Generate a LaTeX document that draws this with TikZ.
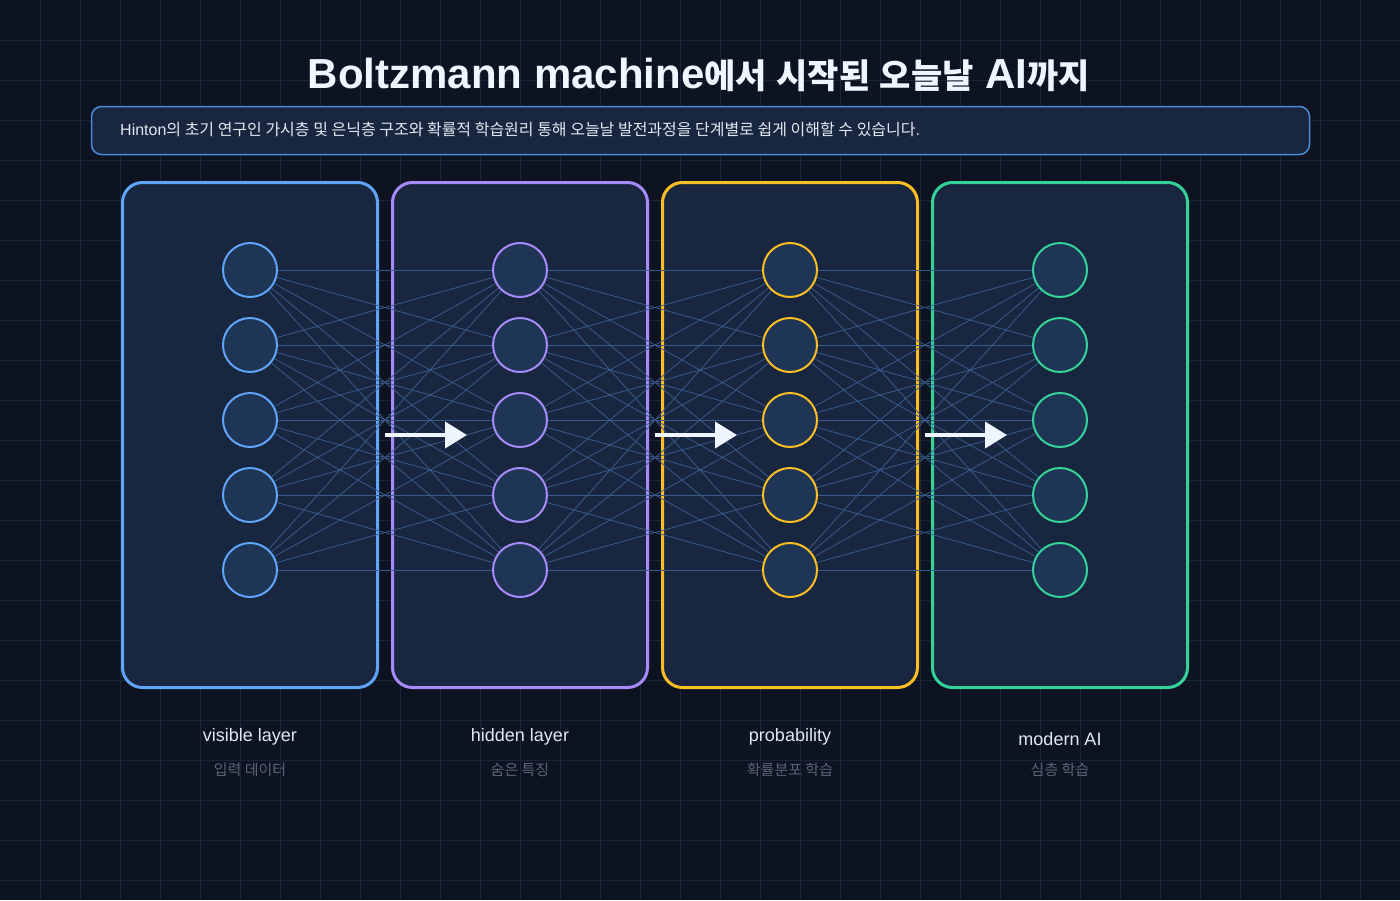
\documentclass[tikz,border=0pt]{standalone}
\usepackage{fontspec}
\setmainfont{Liberation Sans}
\newfontfamily\krfont{Noto Sans CJK KR}
\newcommand{\kr}[1]{{\krfont #1}}
\usepackage{tikz}
\usetikzlibrary{arrows.meta,positioning}
\definecolor{bgnavy}{HTML}{0D1320}
\definecolor{gridnavy}{HTML}{1A2539}
\definecolor{panelnavy}{HTML}{182640}
\definecolor{unitnavy}{HTML}{1E3556}
\definecolor{wirenavy}{HTML}{3A5A8A}
\definecolor{boxblue}{HTML}{4A8AD8}
\definecolor{visblue}{HTML}{60A5FA}
\definecolor{hidpurple}{HTML}{A78BFA}
\definecolor{probyellow}{HTML}{FBBF24}
\definecolor{aigreen}{HTML}{34D399}
\definecolor{titlewhite}{HTML}{F0F6FF}
\definecolor{labelgray}{HTML}{E2E8F0}
\definecolor{subgray}{HTML}{5B6576}

\begin{document}
\begin{tikzpicture}[
        x=1pt, y=-1pt,
        panel/.style={
            rectangle, draw=#1, line width=3pt, rounded corners=20pt, fill=panelnavy,
            minimum width=255pt, minimum height=505pt
        },
        unit/.style={
            circle, draw=#1, line width=2pt, fill=unitnavy, minimum size=54pt, inner sep=0pt
        },
        wire/.style={
            draw=wirenavy, line width=0.8pt
        },
        flow/.style={
            draw=titlewhite, line width=4pt, -{Triangle[length=22pt,width=26pt]}
        },
        lname/.style={
            text=labelgray, font=\fontsize{18}{21}\selectfont
        },
        lsub/.style={
            text=subgray, font=\fontsize{15}{18}\selectfont
        }
    ]

    % Background and grid
    \fill[bgnavy] (0,0) rectangle (1400,900);
    \useasboundingbox (0,0) rectangle (1400,900);
    \foreach \gx in {40,80,...,1360} \draw[gridnavy, line width=1pt] (\gx,0) -- (\gx,900);
    \foreach \gy in {40,80,...,880} \draw[gridnavy, line width=1pt] (0,\gy) -- (1400,\gy);

    % Title
    \node[text=titlewhite, font=\fontsize{42}{48}\selectfont\bfseries] (title) at (699,75)
        {Boltzmann machine{\fontsize{34}{40}\selectfont\kr{에서} \kr{시작된} \kr{오늘날}} AI{\fontsize{34}{40}\selectfont\kr{까지}}};

    % Summary box
    \node[rectangle, draw=boxblue, line width=1.5pt, rounded corners=10pt, fill=panelnavy,
          minimum width=1218pt, minimum height=48pt] (summary) at (700.5,130.5) {};
    \node[anchor=west, text=labelgray, font=\fontsize{16}{19}\selectfont, inner sep=0pt] (summarytext) at (120,129)
        {Hinton\kr{의 초기 연구인 가시층 및 은닉층 구조와 확률적 학습원리 통해 오늘날 발전과정을 단계별로 쉽게 이해할 수 있습니다}.};

    % Panels
    \node[panel=visblue] (vispanel) at (250,435) {};
    \node[panel=hidpurple] (hidpanel) at (520,435) {};
    \node[panel=probyellow] (probpanel) at (790,435) {};
    \node[panel=aigreen] (aipanel) at (1060,435) {};

    % Units
    \foreach \k/\ky in {1/270,2/345,3/420,4/495,5/570} {
        \node[unit=visblue] (v\k) at (250,\ky) {};
        \node[unit=hidpurple] (h\k) at (520,\ky) {};
        \node[unit=probyellow] (p\k) at (790,\ky) {};
        \node[unit=aigreen] (m\k) at (1060,\ky) {};
    }

    % Fully connected wires between neighbouring layers
    \foreach \i in {1,...,5} {
        \foreach \j in {1,...,5} {
            \draw[wire] (v\i) -- (h\j);
            \draw[wire] (h\i) -- (p\j);
            \draw[wire] (p\i) -- (m\j);
        }
    }

    % Flow arrows
    \coordinate (a1s) at (385,435);
    \coordinate (a1e) at (467,435);
    \coordinate (a2s) at (655,435);
    \coordinate (a2e) at (737,435);
    \coordinate (a3s) at (925,435);
    \coordinate (a3e) at (1007,435);
    \draw[flow] (a1s) -- (a1e);
    \draw[flow] (a2s) -- (a2e);
    \draw[flow] (a3s) -- (a3e);

    % Layer names
    \node[lname] (visname) at (250,737) {visible layer};
    \node[lname] (hidname) at (520,737) {hidden layer};
    \node[lname] (probname) at (790,737) {probability};
    \node[lname] (ainame) at (1060,739) {modern AI};
    \node[lsub] (vissub) at (250,770) {\kr{입력 데이터}};
    \node[lsub] (hidsub) at (520,770) {\kr{숨은 특징}};
    \node[lsub] (probsub) at (790,770) {\kr{확률분포 학습}};
    \node[lsub] (aisub) at (1060,770) {\kr{심층 학습}};

\end{tikzpicture}
\end{document}
